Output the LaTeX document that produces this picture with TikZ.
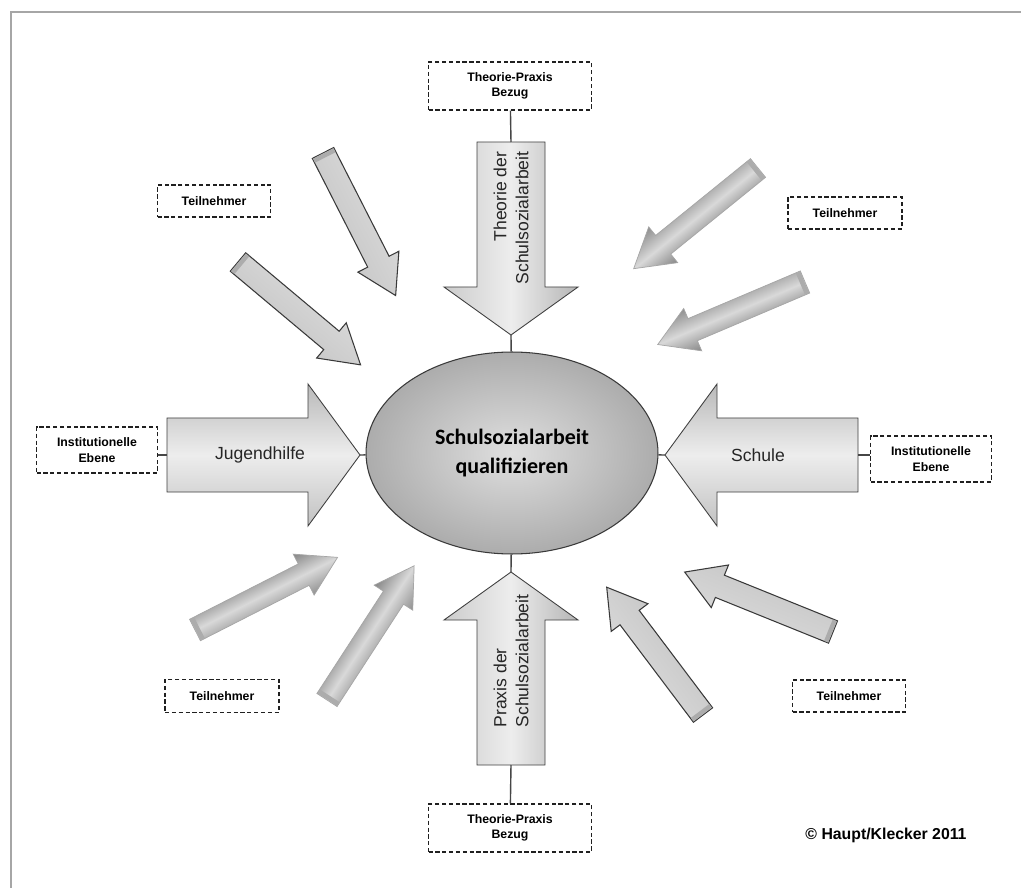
\documentclass[tikz,border=0pt]{standalone}
\usepackage{fontspec}
\setmainfont{Liberation Sans}
\newfontfamily\corefont{Carlito}
\usetikzlibrary{calc,shapes.geometric}

\tikzset{
    frame/.style={draw=gray!70, line width=1pt},
    core/.style={ellipse, draw=gray!45!black, line width=0.6pt, inner color=gray!25, outer color=gray!65,
        minimum width=5.84cm, minimum height=4.04cm, align=center,
        font=\corefont\bfseries\fontsize{12.5}{17}\selectfont},
    tag/.style={draw=gray!25!black, line width=0.8pt, dash pattern=on 2.4pt off 1.5pt, fill=white,
        align=center, inner sep=0pt, font=\bfseries\fontsize{7}{8.8}\selectfont},
    link/.style={draw=gray!55!black, line width=0.8pt},
    bigarrow/.style={draw=gray!50!black, line width=0.5pt},
    armtext/.style={text=black!85, font=\fontsize{10}{12.5}\selectfont},
    pale/.style={draw=gray!45!black, line width=0.6pt, top color=gray!32, bottom color=gray!42},
    steel/.style={draw=gray!70, line width=0.4pt, top color=gray!95, bottom color=gray!88, middle color=gray!30},
}

\begin{document}
\begin{tikzpicture}[x=0.02cm, y=-0.02cm]
    \useasboundingbox (0,0) rectangle (1021,888);
    \fill [white] (-10,-10) rectangle (1031,898);
    \draw [frame] (11,898) -- (11,12) -- (1031,12);

    % small arrows (tail x / tail y / angle / look)
    \foreach \tx/\ty/\ang/\look in {323/153/-63/pale, 238/262/-40/pale, 758/168/-141/steel, 805/282/-157/steel,
                                    195/630/27/steel, 327/700/57/steel, 703/715/127/pale, 833/632/158/pale}{%
        \begin{scope}[transform canvas={shift={(\tx,\ty)}, rotate=\ang}]
            \path [\look] (0,-12) -- (122,-12) -- (122,-23) -- (160,0) -- (122,23) -- (122,12) -- (0,12) -- cycle;
            \fill [gray!65] (0.5,-11.5) rectangle (5,11.5);
        \end{scope}
    }

    \node [core] (core) at (512,453) {Schulsozialarbeit\\qualifizieren};

    % big arrows
    \path [bigarrow, left color=gray!40, right color=gray!58, middle color=gray!14]
        (477,142) -- (545,142) -- (545,287) -- (578,287) -- (511,335) -- (444,287) -- (477,287) -- cycle;
    \coordinate (theotail) at (511,142);
    \coordinate (theotip) at (511,335);
    \node [armtext, rotate=90, align=right] (theolabel) at (511,218) {Theorie der\\Schulsozialarbeit};

    \path [bigarrow, left color=gray!40, right color=gray!58, middle color=gray!14]
        (477,765) -- (545,765) -- (545,620) -- (578,620) -- (511,572) -- (444,620) -- (477,620) -- cycle;
    \coordinate (praxtail) at (511,765);
    \coordinate (praxtip) at (511,572);
    \node [armtext, rotate=90, align=left] (praxlabel) at (511,661) {Praxis der\\Schulsozialarbeit};

    \path [bigarrow, top color=gray!55, bottom color=gray!48, middle color=gray!14]
        (167,418) -- (308,418) -- (308,384) -- (360,455) -- (308,526) -- (308,492) -- (167,492) -- cycle;
    \coordinate (jugtail) at (167,455);
    \coordinate (jugtip) at (360,455);
    \node [armtext] (juglabel) at (260,455) {Jugendhilfe};

    \path [bigarrow, top color=gray!55, bottom color=gray!48, middle color=gray!14]
        (858,418) -- (717,418) -- (717,384) -- (665,455) -- (717,526) -- (717,492) -- (858,492) -- cycle;
    \coordinate (schtail) at (858,455);
    \coordinate (schtip) at (665,455);
    \node [armtext] (schlabel) at (758,455) {Schule};

    % dashed tags
    \node [tag, minimum width=3.26cm, minimum height=0.96cm] (tagtop) at (510,86) {Theorie-Praxis\\Bezug};
    \node [tag, minimum width=3.26cm, minimum height=0.96cm] (tagbottom) at (510,828) {Theorie-Praxis\\Bezug};
    \node [tag, minimum width=2.42cm, minimum height=0.92cm] (tagleft) at (97,450) {Institutionelle\\Ebene};
    \node [tag, minimum width=2.42cm, minimum height=0.92cm] (tagright) at (931,459) {Institutionelle\\Ebene};
    \node [tag, minimum width=2.26cm, minimum height=0.64cm] (tagnw) at (214,201) {Teilnehmer};
    \node [tag, minimum width=2.28cm, minimum height=0.64cm] (tagne) at (845,213) {Teilnehmer};
    \node [tag, minimum width=2.28cm, minimum height=0.66cm] (tagsw) at (222,696) {Teilnehmer};
    \node [tag, minimum width=2.26cm, minimum height=0.64cm] (tagse) at (849,696) {Teilnehmer};

    % connectors
    \draw [link] (tagtop) -- (theotail);
    \draw [link] (theotip) -- (core);
    \draw [link] (tagbottom) -- (praxtail);
    \draw [link] (praxtip) -- (core);
    \draw [link] (jugtail) -- (jugtail -| tagleft.east);
    \draw [link] (jugtip) -- (core);
    \draw [link] (schtail) -- (schtail -| tagright.west);
    \draw [link] (schtip) -- (core);

    \node [font=\bfseries\fontsize{9}{10}\selectfont] (credit) at (886,835) {\textcopyright{} Haupt/Klecker 2011};
\end{tikzpicture}
\end{document}
